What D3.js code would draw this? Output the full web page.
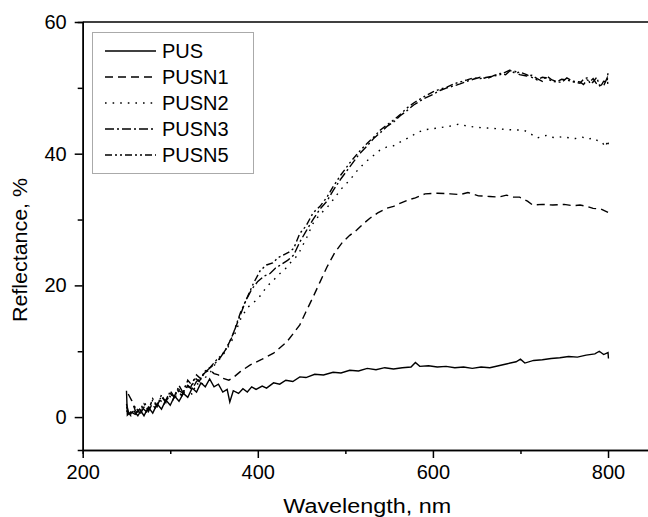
<!DOCTYPE html>
<html>
<head>
<meta charset="utf-8">
<script src="https://cdn.jsdelivr.net/npm/d3@7"></script>
<style>
  html, body { margin: 0; padding: 0; background: #fff; }
  svg { display: block; font-family: 'Liberation Sans', Arial, sans-serif; }
  .axis path, .axis line { stroke: #000; stroke-width: 1.5; }
  .axis text { font-size: 20px; fill: #000; }
</style>
</head>
<body>
<div id="plot"></div>
<script>
// series names, in legend order
var names = ['PUS', 'PUSN1', 'PUSN2', 'PUSN3', 'PUSN5'];

// [wavelength nm, reflectance %]
var pus = [[250,4.0],[251,0.3],[255,0.8],[260,0.4],[265,1.2],[270,0.2],[275,1.5],[280,0.6],[285,2.0],[290,1.2],
  [295,2.6],[300,1.8],[305,3.2],[310,2.4],[315,3.6],[320,3.0],[325,4.4],[330,3.8],[335,5.2],[340,4.6],[345,5.8],
  [350,4.6],[355,5.0],[360,3.8],[365,4.2],[368,2.3],[372,4.0],[378,3.6],[383,4.3],[388,3.8],[393,4.6],[398,4.2],
  [405,4.7],[410,4.4],[418,5.2],[425,5.0],[432,5.6],[440,5.4],[448,6.1],[455,6.0],[465,6.5],[475,6.4],[486,6.8],
  [495,6.7],[505,7.1],[515,7.0],[525,7.4],[535,7.2],[545,7.5],[555,7.3],[565,7.5],[575,7.6],[580,8.3],[585,7.7],
  [595,7.8],[605,7.6],[615,7.7],[625,7.5],[635,7.6],[645,7.4],[655,7.6],[665,7.5],[675,7.8],[685,8.1],[695,8.4],
  [700,8.8],[705,8.2],[715,8.6],[725,8.7],[735,8.9],[745,9.0],[755,9.2],[765,9.1],[775,9.4],[785,9.6],[790,10.0],
  [795,9.5],[800,9.8],[800.5,8.9]];

var pusn1 = [[252,3.5],[256,2.5],[260,1.0],[265,0.3],[270,1.5],[275,0.8],[280,2.2],[285,1.8],[290,3.0],[295,2.4],
  [300,3.6],[305,3.0],[310,4.0],[315,3.6],[320,4.8],[325,4.2],[330,5.4],[335,6.0],[340,6.8],[345,7.2],[350,6.6],
  [355,6.4],[360,5.9],[367,5.6],[372,6.0],[380,6.9],[391,7.9],[405,8.8],[418,9.7],[433,11.4],[440,12.6],[448,14.0],
  [455,16.0],[463,18.2],[471,20.5],[479,22.8],[488,25.0],[497,26.6],[505,27.6],[513,28.4],[520,29.3],[528,30.2],
  [537,31.0],[547,31.7],[555,32.0],[563,32.5],[572,33.0],[580,33.3],[591,33.9],[605,34.0],[620,33.9],[631,33.8],
  [640,34.1],[652,33.6],[665,33.5],[675,33.4],[684,33.7],[692,33.4],[699,33.4],[708,32.8],[714,32.2],[725,32.3],
  [737,32.2],[750,32.3],[760,32.1],[768,32.2],[776,32.0],[783,31.7],[792,31.6],[800,31.1]];

var pusn2 = [[250,1.5],[255,0.5],[260,1.8],[265,0.8],[270,2.3],[275,1.2],[280,2.6],[285,1.8],[290,3.2],[295,2.2],
  [300,3.6],[305,2.8],[310,4.2],[315,3.5],[320,4.6],[325,3.4],[330,5.2],[335,4.6],[340,6.0],[345,6.6],[350,7.8],
  [355,8.6],[360,9.4],[365,10.4],[372,12.0],[380,14.8],[388,16.6],[395,17.4],[399,17.8],[405,18.8],[410,19.8],
  [418,20.8],[426,21.9],[432,22.6],[437,23.4],[443,24.2],[448,25.2],[456,27.3],[463,29.4],[471,30.8],[479,31.8],
  [486,33.0],[495,34.6],[505,36.0],[514,37.5],[522,38.6],[530,39.5],[540,40.6],[547,41.0],[555,41.2],[563,41.8],
  [572,42.4],[581,43.1],[589,43.6],[600,43.8],[610,44.0],[620,44.2],[630,44.5],[639,44.2],[650,44.0],[662,43.9],
  [672,43.8],[682,43.7],[692,43.6],[703,43.6],[710,43.2],[714,42.8],[719,42.4],[725,42.6],[730,42.8],[736,42.5],
  [741,42.4],[748,42.6],[756,42.4],[763,42.3],[771,42.5],[777,42.2],[783,42.4],[788,42.0],[793,41.8],[797,41.0],
  [800,42.1],[800.5,40.7]];

var pusn3 = [[250,2.0],[253,0.4],[258,1.0],[263,0.2],[268,1.4],[273,0.8],[278,2.0],[283,1.4],[288,2.6],[293,2.0],
  [298,3.4],[303,2.6],[308,4.2],[313,3.2],[318,5.0],[323,4.4],[328,6.0],[333,5.4],[338,6.6],[343,7.2],[350,8.0],
  [357,9.0],[363,10.2],[370,12.0],[378,14.8],[386,17.6],[393,19.4],[400,20.6],[407,21.4],[414,21.8],[420,22.6],
  [427,23.2],[434,23.8],[441,24.6],[448,26.6],[455,28.2],[463,30.0],[471,31.6],[479,32.8],[486,34.4],[495,36.2],
  [505,38.0],[515,39.8],[525,41.2],[533,42.4],[540,43.2],[548,44.2],[555,44.8],[563,45.8],[570,46.5],[578,47.4],
  [589,48.3],[600,49.0],[608,49.6],[616,50.0],[624,50.3],[631,50.6],[639,51.0],[646,51.3],[654,51.6],[662,51.4],
  [670,51.9],[677,52.2],[683,52.0],[688,52.6],[694,52.5],[699,52.0],[707,51.8],[713,51.9],[719,51.4],[725,51.0],
  [730,51.8],[736,51.2],[741,51.0],[747,50.8],[753,51.5],[760,51.0],[768,50.9],[772,50.5],[776,51.2],[780,51.0],
  [783,51.4],[787,50.6],[791,50.4],[795,50.3],[799,51.5],[800,50.3]];

var pusn5 = [[250,1.0],[255,0.2],[260,1.6],[265,0.6],[270,2.0],[275,1.0],[280,2.8],[285,1.6],[290,3.4],[295,2.2],
  [300,4.0],[305,3.0],[310,4.8],[315,3.6],[320,5.6],[325,4.8],[330,6.4],[335,5.8],[340,7.0],[346,7.6],[353,8.7],
  [360,9.6],[365,10.6],[372,12.7],[380,15.8],[388,18.2],[395,20.3],[403,22.3],[410,23.1],[417,23.4],[423,24.2],
  [429,24.6],[435,25.0],[441,25.6],[448,27.9],[455,29.0],[463,31.0],[471,32.0],[479,33.4],[486,35.0],[495,36.8],
  [505,38.6],[515,40.2],[525,41.6],[533,42.6],[540,43.6],[548,44.4],[555,45.1],[563,46.0],[570,46.9],[578,47.7],
  [589,48.6],[600,49.4],[608,49.8],[616,50.1],[624,50.6],[631,50.9],[639,51.2],[646,51.5],[654,51.4],[662,51.6],
  [670,51.8],[677,52.0],[683,52.4],[688,52.7],[694,52.2],[699,52.4],[707,52.0],[713,51.6],[719,51.2],[725,51.6],
  [730,51.5],[736,51.0],[741,50.9],[747,51.3],[753,51.2],[760,50.9],[768,50.7],[772,51.3],[776,51.5],[780,50.6],
  [783,50.9],[787,51.6],[791,50.1],[795,51.0],[799,50.9],[800,52.4]];

var x_major = [200, 400, 600, 800];
var x_minor = [300, 500, 700];
var y_major = [0, 20, 40, 60];
var y_minor = [10, 30, 50];

var chart = {};

chart.dash = {
  'PUS': null,
  'PUSN1': '8,5',
  'PUSN2': '1.6,6',
  'PUSN3': '9,3,2,3',
  'PUSN5': '7,3,2,3,2,3'
};

chart.init = function() {

  var W = 648, H = 517;
  var x0 = 82.7, x1 = 651.8, y0 = 450, y1 = 22;

  var data = {'PUS': pus, 'PUSN1': pusn1, 'PUSN2': pusn2, 'PUSN3': pusn3, 'PUSN5': pusn5};

  var xscale = d3.scaleLinear().domain([200, 850]).range([x0, x1]);
  var yscale = d3.scaleLinear().domain([-5, 60]).range([y0, y1]);

  var svg = d3.select('#plot').append('svg')
    .attr('width', W)
    .attr('height', H);

  // minor ticks first, under the majors
  svg.append('g')
    .attr('class', 'axis')
    .attr('transform', 'translate(0,'+y0+')')
    .call(d3.axisBottom(xscale).tickValues(x_minor).tickSize(4).tickFormat(''));

  svg.append('g')
    .attr('class', 'axis')
    .attr('transform', 'translate('+x0+',0)')
    .call(d3.axisLeft(yscale).tickValues(y_minor).tickSize(5).tickFormat(''));

  svg.append('g')
    .attr('class', 'axis')
    .attr('transform', 'translate(0,'+y0+')')
    .call(d3.axisBottom(xscale).tickValues(x_major).tickSize(8).tickPadding(7).tickSizeOuter(0));

  svg.append('g')
    .attr('class', 'axis')
    .attr('transform', 'translate('+x0+',0)')
    .call(d3.axisLeft(yscale).tickValues(y_major).tickSize(8).tickPadding(8).tickSizeOuter(0));

  // top frame
  svg.append('line')
    .attr('x1', x0).attr('x2', x1)
    .attr('y1', y1).attr('y2', y1)
    .attr('stroke', '#000')
    .attr('stroke-width', 1.5);

  var line = d3.line()
    .x(function(d) { return xscale(d[0]); })
    .y(function(d) { return yscale(d[1]); });

  names.forEach(function(n) {
    svg.append('path')
      .datum(data[n])
      .attr('d', line)
      .attr('fill', 'none')
      .attr('stroke', '#000')
      .attr('stroke-width', 1.4)
      .attr('stroke-dasharray', chart.dash[n]);
  });

  // legend
  var lg = svg.append('g').attr('class', 'legend');

  lg.append('rect')
    .attr('x', 92.5).attr('y', 32.5)
    .attr('width', 161).attr('height', 141)
    .attr('fill', '#fff')
    .attr('stroke', '#aaa')
    .attr('stroke-width', 1);

  names.forEach(function(n, i) {
    var yy = 51 + i*26;
    lg.append('line')
      .attr('x1', 105).attr('x2', 156)
      .attr('y1', yy).attr('y2', yy)
      .attr('stroke', '#000')
      .attr('stroke-width', 1.4)
      .attr('stroke-dasharray', chart.dash[n]);
    lg.append('text')
      .attr('x', 162)
      .attr('y', yy)
      .attr('dy', '0.36em')
      .attr('font-size', 20)
      .text(n);
  });

  // axis titles
  svg.append('text')
    .attr('x', (x0+x1)/2)
    .attr('y', 513)
    .attr('text-anchor', 'middle')
    .attr('font-size', 20)
    .attr('textLength', 168)
    .attr('lengthAdjust', 'spacingAndGlyphs')
    .text('Wavelength, nm');

  svg.append('text')
    .attr('transform', 'translate(27,250) rotate(-90)')
    .attr('text-anchor', 'middle')
    .attr('font-size', 20)
    .attr('textLength', 144)
    .attr('lengthAdjust', 'spacingAndGlyphs')
    .text('Reflectance, %');

};

chart.init();
</script>
</body>
</html>
